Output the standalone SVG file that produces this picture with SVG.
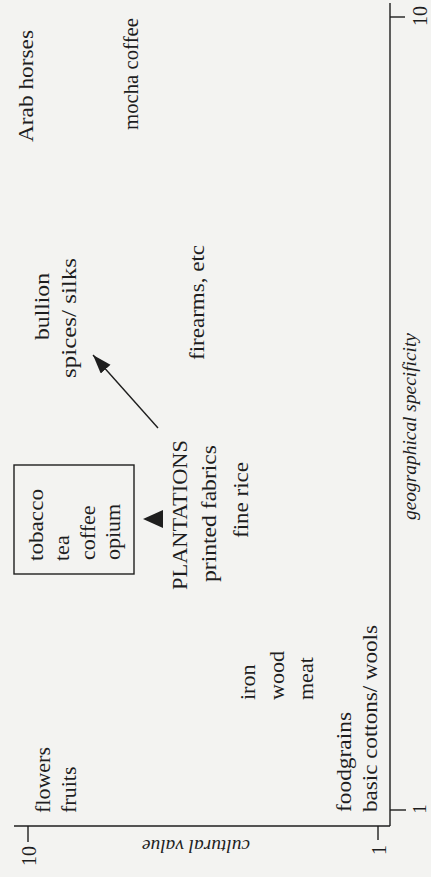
<svg xmlns="http://www.w3.org/2000/svg" width="431" height="877" viewBox="0 0 431 877">
  <style>
    .lbl { font-family: "Liberation Serif", "DejaVu Serif", serif; font-size: 22px; fill: #1e1e1e; }
    .tick { font-family: "Liberation Serif", "DejaVu Serif", serif; font-size: 20px; fill: #1e1e1e; }
    .ttl { font-family: "Liberation Serif", "DejaVu Serif", serif; font-size: 19.5px; font-style: italic; fill: #1e1e1e; }
    .ax { stroke: #1e1e1e; stroke-width: 1.4; fill: none; }
    .conn { stroke: #1e1e1e; stroke-width: 1.4; fill: none; }
    .head { fill: #1e1e1e; stroke: none; }
    .box { stroke: #1e1e1e; stroke-width: 1.4; fill: none; }
  </style>
  <defs>
    <marker id="arrow" markerUnits="userSpaceOnUse" markerWidth="20" markerHeight="14" refX="19" refY="6.5" orient="auto">
      <path d="M0,0 L19,6.5 L0,13 Z" class="head"/>
    </marker>
  </defs>
  <rect x="0" y="0" width="431" height="877" fill="#f3f3f1"/>
  <g transform="translate(0,877) rotate(-90)">
    <g id="axes">
      <line class="ax" x1="51" y1="14" x2="51" y2="390"/>
      <line class="ax" x1="51" y1="390" x2="874" y2="390"/>
      <line class="ax" x1="35" y1="28" x2="51" y2="28"/>
      <line class="ax" x1="37" y1="378" x2="51" y2="378"/>
      <line class="ax" x1="860" y1="390" x2="860" y2="405"/>
      <line class="ax" x1="67" y1="390" x2="67" y2="406"/>
      <text class="tick" x="31" y="36" text-anchor="end">10</text>
      <text class="tick" x="32" y="386" text-anchor="end">1</text>
      <text class="tick" x="861" y="427" text-anchor="middle">10</text>
      <text class="tick" x="68" y="426" text-anchor="middle" style="font-size:18px">1</text>
      <text class="ttl" transform="translate(37,196) rotate(-90)" text-anchor="middle" textLength="108" lengthAdjust="spacingAndGlyphs">cultural value</text>
      <text class="ttl" x="450.5" y="416" text-anchor="middle" textLength="187" lengthAdjust="spacingAndGlyphs">geographical specificity</text>
    </g>
    <g id="node-arab-horses">
      <text class="lbl" x="735" y="33" textLength="112" lengthAdjust="spacingAndGlyphs">Arab horses</text>
    </g>
    <g id="node-mocha-coffee">
      <text class="lbl" x="747" y="138" textLength="112" lengthAdjust="spacingAndGlyphs">mocha coffee</text>
    </g>
    <g id="node-bullion">
      <text class="lbl" x="537" y="49" textLength="67" lengthAdjust="spacingAndGlyphs">bullion</text>
      <text class="lbl" x="499" y="76" textLength="120" lengthAdjust="spacingAndGlyphs">spices/ silks</text>
    </g>
    <g id="node-firearms">
      <text class="lbl" x="517" y="204" textLength="115" lengthAdjust="spacingAndGlyphs">firearms, etc</text>
    </g>
    <g id="node-plantation-crops">
      <rect class="box" x="303" y="14" width="109" height="120"/>
      <text class="lbl" x="316" y="43" textLength="72" lengthAdjust="spacingAndGlyphs">tobacco</text>
      <text class="lbl" x="316" y="69">tea</text>
      <text class="lbl" x="317" y="95">coffee</text>
      <text class="lbl" x="317" y="120">opium</text>
    </g>
    <g id="node-plantations">
      <text class="lbl" x="287" y="187" textLength="150" lengthAdjust="spacingAndGlyphs">PLANTATIONS</text>
      <text class="lbl" x="295" y="216" textLength="137" lengthAdjust="spacingAndGlyphs">printed fabrics</text>
    </g>
    <g id="node-fine-rice">
      <text class="lbl" x="339" y="248" textLength="76" lengthAdjust="spacingAndGlyphs">fine rice</text>
    </g>
    <g id="node-iron-wood-meat">
      <text class="lbl" x="177" y="255">iron</text>
      <text class="lbl" x="177" y="284">wood</text>
      <text class="lbl" x="177" y="313">meat</text>
    </g>
    <g id="node-flowers-fruits">
      <text class="lbl" x="64" y="50">flowers</text>
      <text class="lbl" x="64" y="76">fruits</text>
    </g>
    <g id="node-foodgrains">
      <text class="lbl" x="65" y="351" textLength="100" lengthAdjust="spacingAndGlyphs">foodgrains</text>
      <text class="lbl" x="65" y="377" textLength="187" lengthAdjust="spacingAndGlyphs">basic cottons/ wools</text>
    </g>
    <g id="connectors">
      <line class="conn" x1="449" y1="158" x2="522" y2="93" marker-end="url(#arrow)"/>
      <polygon class="head" points="358,143 349,163 367,163"/>
    </g>
  </g>
</svg>
